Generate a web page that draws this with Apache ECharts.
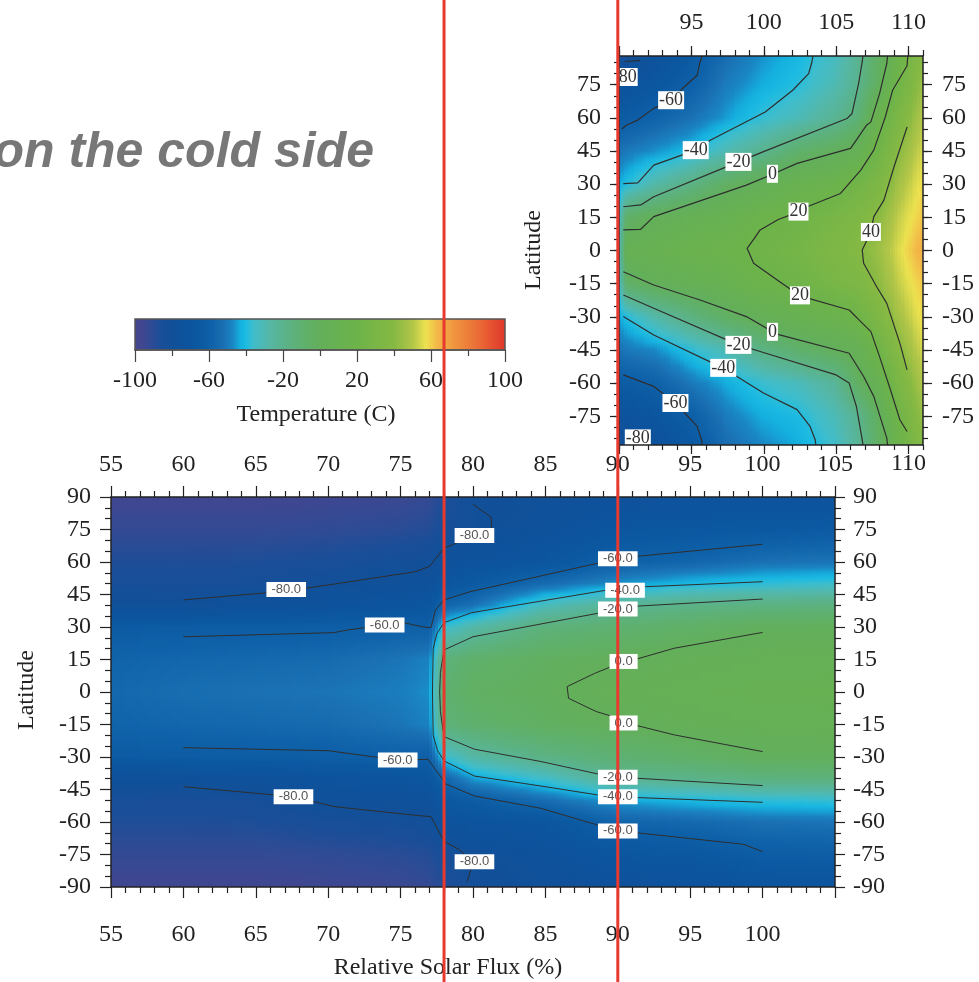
<!DOCTYPE html>
<html>
<head>
<meta charset="utf-8">
<script src="https://cdn.jsdelivr.net/npm/echarts@6/dist/echarts.min.js"></script>
<style>
  html, body { margin: 0; background: #fff; }
  #chart { width: 979px; height: 982px; }
</style>
</head>
<body>
<div id="chart"></div>
<script>
// ---- lower panel: relative solar flux 55..105 (%), latitude -90..90
const botFlux = [55, 60, 65, 70, 75, 77, 78, 80, 85, 90, 95, 100, 105]
const botLat = [90, 75, 60, 50, 40, 30, 15, 0, -15, -30, -40, -50, -60, -75, -90]
// one row per flux column, values at botLat (C)
const botTemp = [
  [-96, -92, -87, -84, -78, -63, -57.5, -55.5, -57.5, -63, -77, -84, -87, -92, -96],
  [-96, -92, -87, -84.5, -78, -62, -56, -53, -56, -62, -77, -85, -87, -92, -96],
  [-96, -92, -86.5, -83, -76, -61.5, -55, -52, -55, -61.5, -75.5, -83.5, -86.5, -92, -96],
  [-95, -91, -85, -80.5, -73, -61, -54, -51, -54, -61, -72, -78, -84, -91, -95],
  [-94, -89.5, -82, -77, -70, -59, -51, -49, -51, -59, -70, -77, -82.5, -89.5, -94],
  [-92, -88, -81, -76, -68, -60, -48, -46, -48, -60, -68, -76, -81, -88, -92],
  [-87, -83.5, -76, -69, -57, -37, -14, -10, -13, -37, -57, -66, -73, -84, -88],
  [-81, -80.3, -72.5, -64, -52, -28, -8, -4, -9, -27, -45, -62, -71, -79.5, -82],
  [-78, -75, -68, -54, -32, -14, -3, -1.5, -3.5, -17, -35, -53, -68, -75, -78],
  [-76, -68, -59, -46, -22, -10, -0.5, 4, -0.3, -11, -21, -44, -57, -68, -76],
  [-74, -66, -56.5, -40.5, -18, -6, 3, 6.5, 3, -6.5, -19, -40.5, -55, -66, -74],
  [-72, -65, -52, -38, -16, -1.5, 5, 8, 5, -2, -15, -38, -52, -61.5, -70],
  [-73, -63, -51, -36, -15, -1, 5.5, 8.5, 5.5, -1.5, -14, -37, -51, -61, -70]
]
// contour lines [flux, lat]
const botM80N = [[60, 42.5], [67, 46.5], [70.4, 49.8], [76, 55.5], [77, 58], [78, 66.5], [78.6, 68], [80, 72], [81.3, 73], [81.25, 80.7], [80, 86.6]]
const botM80S = [[60, -43.7], [67.6, -48.3], [70.4, -52.9], [76.3, -57.1], [77.1, -57.5], [78, -69], [79, -72.5], [80, -78.3], [79.6, -87.5]]
const botM60N = [[60, 25.5], [70.4, 27.4], [71.3, 28.6], [73.9, 30.9], [75.2, 32], [76.5, 30.1], [77.1, 29.7], [77.4, 37.8], [78, 42.5], [79.8, 46.3], [88.6, 59.4], [90, 61.5], [91.6, 62.8], [100, 68.2]]
const botM60S = [[60, -25.7], [70, -27.1], [74.8, -31.4], [76.9, -31.1], [77.9, -40.3], [78, -42.1], [80.1, -48], [84.7, -53.7], [88.6, -61.4], [90, -64], [91.6, -65.2], [98.7, -70.3], [100, -73.7]]
const botM40 = [[100, 50.9], [91.9, 48.6], [90.5, 47], [89.2, 47], [79.9, 36.6], [78, 32], [77.5, 27], [77.25, 20], [77.2, 0], [77.25, -20], [77.55, -27], [78, -31.8], [80.1, -38.8], [84.7, -43.4], [88.6, -47.5], [90, -48.3], [91.6, -48.8], [100, -50.9]]
const botM20 = [[100, 42.9], [91.5, 39.7], [90, 38.3], [88.6, 36.3], [80, 25.5], [78, 19.4], [77.75, 9], [77.7, 0], [77.75, -9], [78, -20.6], [80.1, -26.4], [84.7, -32.1], [88.6, -37.8], [90, -39.4], [91.3, -39.8], [100, -43.2]]
const bot0 = [[100, 27.5], [93.9, 20.2], [91.1, 14.8], [90.4, 14], [88.4, 8.6], [86.5, 2.5], [86.6, -2.9], [88.5, -9], [89.7, -11.4], [90.6, -14.3], [93.9, -19.8], [100, -27.5]]
const botLabels = [
  [67.1, 47.3, '-80.0'], [73.9, 30.9, '-60.0'], [80.1, 72.2, '-80.0'], [90, 61.5, '-60.0'],
  [90.5, 47, '-40.0'], [90, 38.3, '-20.0'], [90.4, 14.1, '0.0'], [90.4, -14.3, '0.0'],
  [90, -39.3, '-20.0'], [90, -48.4, '-40.0'], [90, -64.1, '-60.0'], [80.1, -78.3, '-80.0'],
  [67.6, -48.4, '-80.0'], [74.8, -31.4, '-60.0']
]

// ---- upper right panel: flux 90..111, latitude -88..88
const trFlux = [90, 90.6, 92.5, 95, 97.5, 100, 102.5, 105, 106.5, 108, 109.5, 111]
const trLat = [88, 75, 60, 45, 30, 15, 0, -15, -30, -45, -60, -75, -88]
const trTemp = [
  [-84, -74, -63, -52, -44, -38, -36, -38, -44, -52, -62, -74, -84],
  [-81, -72, -62, -50, -39, -6, 8, -6, -39, -50, -62, -72, -81],
  [-74, -67, -58, -46, -28, 0.5, 10, 0.5, -28, -47, -59, -68, -75],
  [-64, -59.5, -52, -40.5, -17, 6, 15, 5.5, -16, -38, -50, -60.5, -65],
  [-53, -49, -44.5, -30, -4, 10, 18, 10, -4.5, -30, -43, -49, -53],
  [-46, -43, -37, -20.5, 3, 18.5, 23, 18, 4, -17, -36.5, -43, -47],
  [-41, -38.5, -31, -8, 12, 22, 27, 22, 10, -8, -32, -40, -43],
  [-33, -30, -22, -1, 16, 29, 34, 29, 15, -0.5, -23, -31, -35],
  [-22, -20.5, -13, 5, 24, 34, 38, 33, 21, 5, -4, -21, -23],
  [-4, -1.5, 14, 23, 33, 41, 45, 41.5, 34, 22, 9, -1.5, -5],
  [20, 25, 34, 42, 48, 53, 56, 53, 48, 41, 33, 24, 19],
  [40, 45, 50, 54, 58, 61, 66, 61, 58, 54, 49, 44, 39]
]
const trM80N = [[90.4, 85.5], [91.45, 86]]
const trM60N = [[95.75, 88], [95.6, 85.3], [95.4, 79.3], [94.5, 74], [93.6, 68], [92.4, 64.3], [91.3, 59], [90.5, 56.7], [90.2, 55]]
const trM40N = [[90.3, 30.3], [91.3, 30.6], [92.4, 38.6], [95.3, 45.4], [96.3, 49.9], [100.1, 62.7], [102, 72.5], [103.1, 80], [103.3, 84.6], [103.4, 88]]
const trM20N = [[90.3, 19.8], [91.5, 20.6], [92.4, 24.3], [98.25, 40.1], [99.9, 44.5], [105.75, 59.7], [106.1, 62], [106.55, 75.5], [106.8, 85.3], [106.85, 88]]
const tr0N = [[90.3, 9.3], [91.5, 9.6], [92.4, 15.3], [98.8, 29.6], [100.6, 34.5], [102.3, 39.4], [106, 46.2], [107.1, 56.7], [107.4, 58.2], [108, 71], [108.5, 84.6], [108.55, 88]]
const tr20 = [[109.95, 88], [109.9, 83.6], [108.9, 72.5], [108.4, 60.5], [107.6, 45.4], [106.7, 36.4], [105.3, 25.8], [103, 19.8], [102.4, 17.5], [101, 14], [99.75, 9.3], [99.3, 5], [98.85, 1], [99.3, -5.8], [101.1, -14.1], [102.5, -20.5], [105.9, -26.9], [106.7, -32.2], [107.4, -36.7], [108, -48], [108.75, -63], [109.4, -76.6], [109.9, -81.9]]
const tr40 = [[109.9, 55.9], [109, 37.9], [108.3, 22.8], [107.6, 15.3], [107.4, 8.5], [106.8, 0.2], [106.9, -5.8], [107.8, -16.4], [108.5, -23.9], [109.4, -41.9], [109.9, -54]]
const tr0S = [[90.3, -9.6], [92.4, -15.6], [95.6, -22.4], [98.8, -29.9], [100.6, -36.7], [101.1, -38.2], [105.9, -46.5], [106.9, -57], [107.6, -66], [108.5, -84.9], [108.55, -88]]
const trM20S = [[90.3, -20.1], [92.4, -26.1], [98.25, -42.7], [99.75, -45.7], [105, -56.3], [105.9, -60], [106.4, -70.6], [106.8, -85.6], [106.85, -88]]
const trM40S = [[90.3, -29.9], [92.4, -38.2], [97.2, -53.2], [99.98, -64.5], [102.3, -72], [103.2, -79.6], [103.55, -85.6], [103.6, -88]]
const trM60S = [[90.3, -56.3], [92.4, -61.5], [93.9, -69], [95.4, -79.6], [95.7, -85.6], [95.75, -88]]
const trLabels = [
  [93.6, 68, '-60'], [95.3, 45.4, '-40'], [98.25, 40.1, '-20'], [100.6, 34.7, '0'],
  [102.4, 17.6, '20'], [107.4, 8.4, '40'], [102.5, -20.3, '20'], [100.6, -36.8, '0'],
  [98.25, -42.7, '-20'], [97.2, -53.1, '-40'], [93.9, -69, '-60'], [90.6, 78.5, '80'], [91.3, -85, '-80']
]

// ---- ticks
const trTickX = [90, 95, 100, 105, 110]
const trLabelXTop = [95, 100, 105, 110]
const trLabelXBottom = [110]
const trTickY = [-75, -60, -45, -30, -15, 0, 15, 30, 45, 60, 75]
const trMinorX = []
for (let v = 90; v <= 111; v++) trMinorX.push(v)
const trMinorY = []
for (let v = -85; v <= 85; v += 5) trMinorY.push(v)

// colour scale of the figure (Temperature, C)
const cmapStops = [
  [-100, '#46468e'], [-95, '#3f4791'], [-90, '#2c4b95'], [-86, '#1b4e98'], [-80, '#115099'],
  [-72, '#0d539d'], [-65, '#0b58a1'], [-58, '#0f62a9'], [-52, '#1a70b3'], [-47, '#1a86c4'],
  [-43, '#14b0df'], [-40, '#1cbbe2'], [-36, '#3fbdcc'], [-28, '#54b7a8'], [-18, '#5bb286'],
  [-8, '#5fb06b'], [0, '#63af5a'], [20, '#6db34a'], [40, '#86b943'], [50, '#b3c648'],
  [57, '#ede24f'], [63, '#f3b848'], [72, '#f0963f'], [86, '#ea6935'], [100, '#e0352a']
]

const cmapRgb = cmapStops.map(s => [s[0], [1, 3, 5].map(k => parseInt(s[1].slice(k, k + 2), 16))])
function cmap (v) {
  let i = 1
  while (i < cmapRgb.length - 1 && v > cmapRgb[i][0]) i++
  const a = cmapRgb[i - 1]
  const b = cmapRgb[i]
  let t = (v - a[0]) / (b[0] - a[0])
  t = Math.max(0, Math.min(1, t))
  return 'rgb(' + [0, 1, 2].map(k => Math.round(a[1][k] + (b[1][k] - a[1][k]) * t)).join(',') + ')'
}

function fieldSeries (xi, yi, flux, lats, temp) {
  const items = []
  for (let i = 0; i < flux.length - 1; i++) items.push([flux[i], lats[0], flux[i + 1], lats[lats.length - 1], i])
  const span = lats[0] - lats[lats.length - 1]
  const L = lats.length - 1
  return {
    type: 'custom',
    xAxisIndex: xi,
    yAxisIndex: yi,
    silent: true,
    clip: true,
    z: 1,
    encode: { x: [0, 2], y: [1, 3] },
    data: items,
    renderItem: function (params, api) {
      const i = api.value(4)
      const p0 = api.coord([api.value(0), api.value(1)])
      const p1 = api.coord([api.value(2), api.value(3)])
      const w = p1[0] - p0[0]
      const h = p1[1] - p0[1]
      const n = Math.max(1, Math.ceil(w / 3))
      const a = temp[i]
      const b = temp[i + 1]
      const kids = []
      for (let k = 0; k < n; k++) {
        const t = (k + 0.5) / n
        const stops = []
        for (let j = 0; j < L; j++) {
          const v0 = a[j] + (b[j] - a[j]) * t
          const v1 = a[j + 1] + (b[j + 1] - a[j + 1]) * t
          for (let s = 0; s < 4; s++) {
            const u = s / 4
            stops.push({ offset: (lats[0] - (lats[j] + (lats[j + 1] - lats[j]) * u)) / span, color: cmap(v0 + (v1 - v0) * u) })
          }
        }
        stops.push({ offset: 1, color: cmap(a[L] + (b[L] - a[L]) * t) })
        kids.push({
          type: 'rect',
          shape: { x: Math.floor(p0[0] + w * k / n), y: p0[1], width: Math.ceil(w / n) + 1, height: h },
          style: { fill: new echarts.graphic.LinearGradient(0, 0, 0, 1, stops) }
        })
      }
      return { type: 'group', children: kids }
    }
  }
}

function contourSeries (xi, yi, pts, width) {
  return {
    type: 'line',
    xAxisIndex: xi,
    yAxisIndex: yi,
    data: pts,
    symbol: 'none',
    silent: true,
    z: 3,
    lineStyle: { color: '#2e2e2e', width: width }
  }
}

function labelSeries (xi, yi, list, font, color, pad) {
  return {
    type: 'custom',
    xAxisIndex: xi,
    yAxisIndex: yi,
    silent: true,
    clip: true,
    z: 4,
    encode: { x: 0, y: 1 },
    data: list.map(d => [d[0], d[1]]),
    renderItem: function (params, api) {
      const p = api.coord([api.value(0), api.value(1)])
      return {
        type: 'text',
        x: p[0],
        y: p[1],
        style: {
          text: list[params.dataIndex][2],
          font: font,
          fill: color,
          align: 'center',
          verticalAlign: 'middle',
          backgroundColor: '#fff',
          padding: pad
        }
      }
    }
  }
}

const ink = '#222'
const serif = 'Liberation Serif'
function axis (o) {
  const base = {
    type: 'value',
    z: 5,
    axisLine: { show: true, onZero: false, lineStyle: { color: ink, width: 1.5 } },
    axisTick: { show: true, inside: false, length: 10, lineStyle: { color: ink, width: 1.2 } },
    minorTick: { show: false },
    axisLabel: { show: true, fontFamily: serif, fontSize: 24, color: ink },
    splitLine: { show: false }
  }
  for (const k in o) {
    if (o[k] && typeof o[k] === 'object' && !Array.isArray(o[k]) && base[k]) base[k] = Object.assign({}, base[k], o[k])
    else base[k] = o[k]
  }
  return base
}
const minor = { show: true, length: 6, lineStyle: { color: ink, width: 1.2 } }

const chart = echarts.init(document.getElementById('chart'))
chart.setOption({
  animation: false,
  backgroundColor: '#fff',
  grid: [
    { left: 111, top: 497, width: 724, height: 390 },
    { left: 619, top: 56, width: 304, height: 389 },
    { left: 135, top: 319, width: 370, height: 31 }
  ],
  xAxis: [
    axis({ gridIndex: 0, position: 'bottom', min: 55, max: 105, interval: 5, axisTick: { length: 11 },
      minorTick: Object.assign({ splitNumber: 5 }, minor),
      axisLabel: { margin: 36, formatter: v => (v === 105 ? '' : String(v)) } }),
    axis({ gridIndex: 0, position: 'top', min: 55, max: 105, interval: 5, axisTick: { length: 11 },
      minorTick: Object.assign({ splitNumber: 5 }, minor), axisLabel: { margin: 20 } }),
    axis({ gridIndex: 1, position: 'top', min: 90, max: 111, axisTick: { length: 10, customValues: trTickX },
      axisLabel: { margin: 21, customValues: trLabelXTop } }),
    axis({ gridIndex: 1, position: 'top', min: 90, max: 111, axisLine: { show: false },
      axisTick: { length: 6, customValues: trMinorX }, axisLabel: { show: false } }),
    axis({ gridIndex: 1, position: 'bottom', min: 90, max: 111, axisTick: { length: 9, customValues: trTickX },
      axisLabel: { margin: 7, customValues: trLabelXBottom } }),
    axis({ gridIndex: 1, position: 'bottom', min: 90, max: 111, axisLine: { show: false },
      axisTick: { length: 5, customValues: trMinorX }, axisLabel: { show: false } }),
    axis({ gridIndex: 2, position: 'bottom', min: -100, max: 100, interval: 40,
      axisLine: { lineStyle: { color: '#555', width: 1.5 } },
      axisTick: { length: 12, lineStyle: { color: '#444', width: 1.2 } },
      minorTick: { show: true, splitNumber: 2, length: 6, lineStyle: { color: '#444', width: 1.2 } },
      axisLabel: { margin: 19 } })
  ],
  yAxis: [
    axis({ gridIndex: 0, position: 'left', min: -90, max: 90, interval: 15, axisTick: { length: 11 },
      minorTick: Object.assign({ splitNumber: 3 }, minor), axisLabel: { margin: 20 } }),
    axis({ gridIndex: 0, position: 'right', min: -90, max: 90, interval: 15, axisTick: { length: 10 },
      minorTick: Object.assign({ splitNumber: 3 }, minor), axisLabel: { margin: 18 } }),
    axis({ gridIndex: 1, position: 'left', min: -88, max: 88, axisTick: { length: 9, customValues: trTickY },
      axisLabel: { margin: 18, customValues: trTickY } }),
    axis({ gridIndex: 1, position: 'left', min: -88, max: 88, axisLine: { show: false },
      axisTick: { length: 5, customValues: trMinorY }, axisLabel: { show: false } }),
    axis({ gridIndex: 1, position: 'right', min: -88, max: 88, axisTick: { length: 9, customValues: trTickY },
      axisLabel: { margin: 19, customValues: trTickY } }),
    axis({ gridIndex: 1, position: 'right', min: -88, max: 88, axisLine: { show: false },
      axisTick: { length: 5, customValues: trMinorY }, axisLabel: { show: false } }),
    { type: 'value', gridIndex: 2, min: 0, max: 1, show: false }
  ],
  series: [
    fieldSeries(0, 0, botFlux, botLat, botTemp),
    fieldSeries(2, 2, trFlux, trLat, trTemp),
    {
      type: 'custom',
      xAxisIndex: 6,
      yAxisIndex: 6,
      silent: true,
      encode: { x: [0, 2], y: [1, 3] },
      data: [[-100, 0, 100, 1]],
      renderItem: function (params, api) {
        const lo = api.value(0)
        const hi = api.value(2)
        const p0 = api.coord([lo, api.value(3)])
        const p1 = api.coord([hi, api.value(1)])
        const stops = cmapStops.map(s => ({ offset: (s[0] - lo) / (hi - lo), color: s[1] }))
        return {
          type: 'rect',
          shape: { x: p0[0], y: p0[1], width: p1[0] - p0[0], height: p1[1] - p0[1] },
          style: { fill: new echarts.graphic.LinearGradient(0, 0, 1, 0, stops), stroke: '#555', lineWidth: 1.5 }
        }
      }
    },
    ...[botM80N, botM80S, botM60N, botM60S, botM40, botM20, bot0].map(c => contourSeries(0, 0, c, 1)),
    ...[trM80N, trM60N, trM40N, trM20N, tr0N, tr20, tr40, tr0S, trM20S, trM40S, trM60S].map(c => contourSeries(2, 2, c, 1.2)),
    labelSeries(0, 0, botLabels, '13px "Liberation Sans"', '#555', [1, 5]),
    labelSeries(2, 2, trLabels, '18px "Liberation Serif"', '#333', [0, 1])
  ]
})

// guide lines at 78 % and 90 % of today's solar flux, through the lower panel's scale
const xA = chart.convertToPixel({ xAxisIndex: 0 }, 78)
const xB = chart.convertToPixel({ xAxisIndex: 0 }, 90)
const titleFont = (size) => size + 'px "Liberation Serif"'
chart.setOption({
  graphic: [
    { type: 'text', x: 374, y: 153, z: 50,
      style: { text: 'on the cold side', font: 'italic bold 50px "Liberation Sans"', fill: '#777', align: 'right', verticalAlign: 'middle' } },
    { type: 'text', x: 316, y: 415, z: 50,
      style: { text: 'Temperature (C)', font: titleFont(24), fill: ink, align: 'center', verticalAlign: 'middle' } },
    { type: 'text', x: 448, y: 968, z: 50,
      style: { text: 'Relative Solar Flux (%)', font: titleFont(24), fill: ink, align: 'center', verticalAlign: 'middle' } },
    { type: 'text', x: 27, y: 690, rotation: Math.PI / 2, z: 50,
      style: { text: 'Latitude', font: titleFont(24), fill: ink, align: 'center', verticalAlign: 'middle' } },
    { type: 'text', x: 534, y: 250, rotation: Math.PI / 2, z: 50,
      style: { text: 'Latitude', font: titleFont(24), fill: ink, align: 'center', verticalAlign: 'middle' } },
    { type: 'line', z: 100, shape: { x1: xA, y1: 0, x2: xA, y2: 982 }, style: { stroke: '#e8392e', lineWidth: 3 } },
    { type: 'line', z: 100, shape: { x1: xB, y1: 0, x2: xB, y2: 982 }, style: { stroke: '#e8392e', lineWidth: 3 } }
  ]
})
</script>
</body>
</html>
